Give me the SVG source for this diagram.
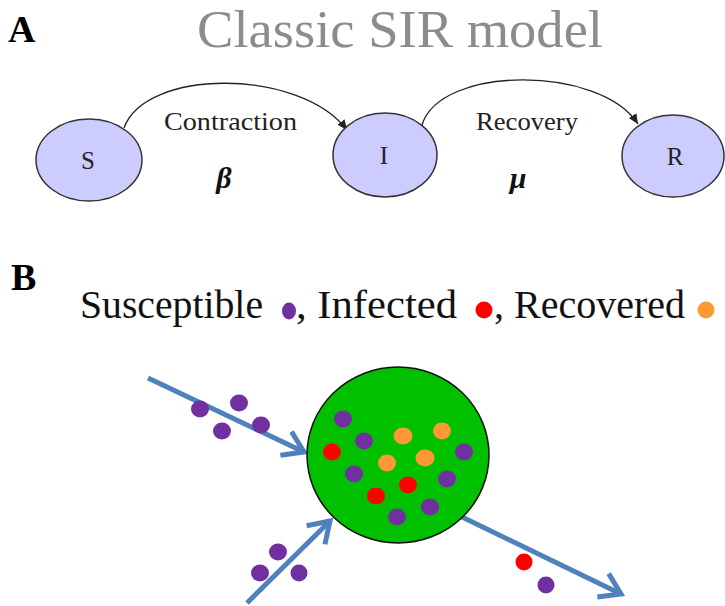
<svg xmlns="http://www.w3.org/2000/svg" width="725" height="606" viewBox="0 0 725 606">
<style>
.node{fill:#ccccff;stroke:#333;stroke-width:1.5;}
.arc{fill:none;stroke:#222;stroke-width:1.3;}
.flow{fill:none;stroke:#4f81bd;stroke-width:5;}
.sus{fill:#7030a0;}
.inf{fill:#ff0000;}
.rec{fill:#ff9933;}
</style>
<defs>
<marker id="ah" markerUnits="userSpaceOnUse" markerWidth="11" markerHeight="9" refX="10" refY="4.5" orient="auto">
<path d="M0,0 L10,4.5 L0,9 z" fill="#222"/>
</marker>
<marker id="chev" markerUnits="userSpaceOnUse" markerWidth="30" markerHeight="34" refX="23" refY="17" orient="auto">
<path d="M3,4 L23,17 L3,30" fill="none" stroke="#4f81bd" stroke-width="5"/>
</marker>
</defs>

<text x="8" y="42" font-size="38" font-weight="bold" fill="#000" font-family="Liberation Serif">A</text>
<text x="197" y="47" font-size="52" fill="#8c8c8c" font-family="Liberation Serif" textLength="406" lengthAdjust="spacingAndGlyphs">Classic SIR model</text>

<g id="connectors-A">
<path class="arc" d="M124,128 C145,68 300,68 347,130" marker-end="url(#ah)"/>
<path class="arc" d="M422,125 C440,65 600,65 638,124" marker-end="url(#ah)"/>
</g>

<g id="node-S">
<ellipse class="node" cx="89" cy="160" rx="53" ry="41"/>
<text x="88" y="169" font-size="25" fill="#222" text-anchor="middle" font-family="Liberation Serif">S</text>
</g>
<g id="node-I">
<ellipse class="node" cx="385" cy="155" rx="52" ry="42"/>
<text x="384" y="164" font-size="25" fill="#222" text-anchor="middle" font-family="Liberation Serif">I</text>
</g>
<g id="node-R">
<ellipse class="node" cx="673" cy="156" rx="51" ry="41"/>
<text x="675" y="165" font-size="25" fill="#222" text-anchor="middle" font-family="Liberation Serif">R</text>
</g>

<g id="labels-A">
<text x="164" y="130" font-size="25" fill="#222" font-family="Liberation Serif" textLength="133" lengthAdjust="spacingAndGlyphs">Contraction</text>
<text x="224" y="188" font-size="30" font-weight="bold" font-style="italic" fill="#111" text-anchor="middle" font-family="Liberation Serif">β</text>
<text x="476" y="130" font-size="25" fill="#222" font-family="Liberation Serif" textLength="102" lengthAdjust="spacingAndGlyphs">Recovery</text>
<text x="518" y="188" font-size="30" font-weight="bold" font-style="italic" fill="#111" text-anchor="middle" font-family="Liberation Serif">μ</text>
</g>

<text x="11" y="290" font-size="38" font-weight="bold" fill="#000" font-family="Liberation Serif">B</text>
<g id="legend">
<text x="80" y="318" font-size="40" fill="#111" font-family="Liberation Serif" textLength="183" lengthAdjust="spacingAndGlyphs">Susceptible</text>
<ellipse class="sus" cx="289" cy="311" rx="7" ry="8.5"/>
<text x="296" y="318" font-size="40" fill="#111" font-family="Liberation Serif" textLength="161" lengthAdjust="spacingAndGlyphs">, Infected</text>
<ellipse class="inf" cx="484" cy="310" rx="8.5" ry="8.5"/>
<text x="494" y="318" font-size="40" fill="#111" font-family="Liberation Serif" textLength="191" lengthAdjust="spacingAndGlyphs">, Recovered</text>
<ellipse class="rec" cx="706" cy="310" rx="8.5" ry="8.5"/>
</g>

<g id="connectors-B">
<line class="flow" x1="148" y1="378" x2="304" y2="452" marker-end="url(#chev)"/>
<line class="flow" x1="247" y1="603" x2="330" y2="521" marker-end="url(#chev)"/>
<line class="flow" x1="462" y1="517" x2="621" y2="594" marker-end="url(#chev)"/>
</g>

<g id="node-population">
<ellipse cx="398" cy="455" rx="91" ry="88" fill="#00c000" stroke="#111" stroke-width="1.5"/>
<ellipse class="sus" cx="343" cy="419" rx="9" ry="8.5"/>
<ellipse class="sus" cx="364" cy="441" rx="9" ry="8.5"/>
<ellipse class="rec" cx="403" cy="436" rx="9.5" ry="8.5"/>
<ellipse class="rec" cx="442" cy="431" rx="9" ry="8.5"/>
<ellipse class="inf" cx="332" cy="452" rx="9" ry="8.5"/>
<ellipse class="rec" cx="387" cy="463" rx="9" ry="8.5"/>
<ellipse class="rec" cx="425" cy="458" rx="9.5" ry="8.5"/>
<ellipse class="sus" cx="464" cy="452" rx="9" ry="8.5"/>
<ellipse class="sus" cx="354" cy="474" rx="9" ry="8.5"/>
<ellipse class="inf" cx="408" cy="485" rx="9" ry="8.5"/>
<ellipse class="sus" cx="447" cy="479" rx="9" ry="8.5"/>
<ellipse class="inf" cx="376" cy="496" rx="9" ry="8.5"/>
<ellipse class="sus" cx="430" cy="507" rx="9" ry="8.5"/>
<ellipse class="sus" cx="397" cy="517" rx="9" ry="8.5"/>
</g>

<g id="incoming-dots">
<ellipse class="sus" cx="200" cy="409" rx="9" ry="8.5"/>
<ellipse class="sus" cx="239" cy="403" rx="9" ry="8.5"/>
<ellipse class="sus" cx="222" cy="431" rx="9" ry="8.5"/>
<ellipse class="sus" cx="261" cy="425" rx="9" ry="8.5"/>
<ellipse class="sus" cx="278" cy="552" rx="9" ry="8.5"/>
<ellipse class="sus" cx="260" cy="573" rx="9" ry="8.5"/>
<ellipse class="sus" cx="299" cy="573" rx="8.5" ry="8.5"/>
</g>
<g id="outgoing-dots">
<ellipse class="inf" cx="524" cy="562" rx="8.5" ry="8.5"/>
<ellipse class="sus" cx="546" cy="585" rx="8.5" ry="8.5"/>
</g>
</svg>
